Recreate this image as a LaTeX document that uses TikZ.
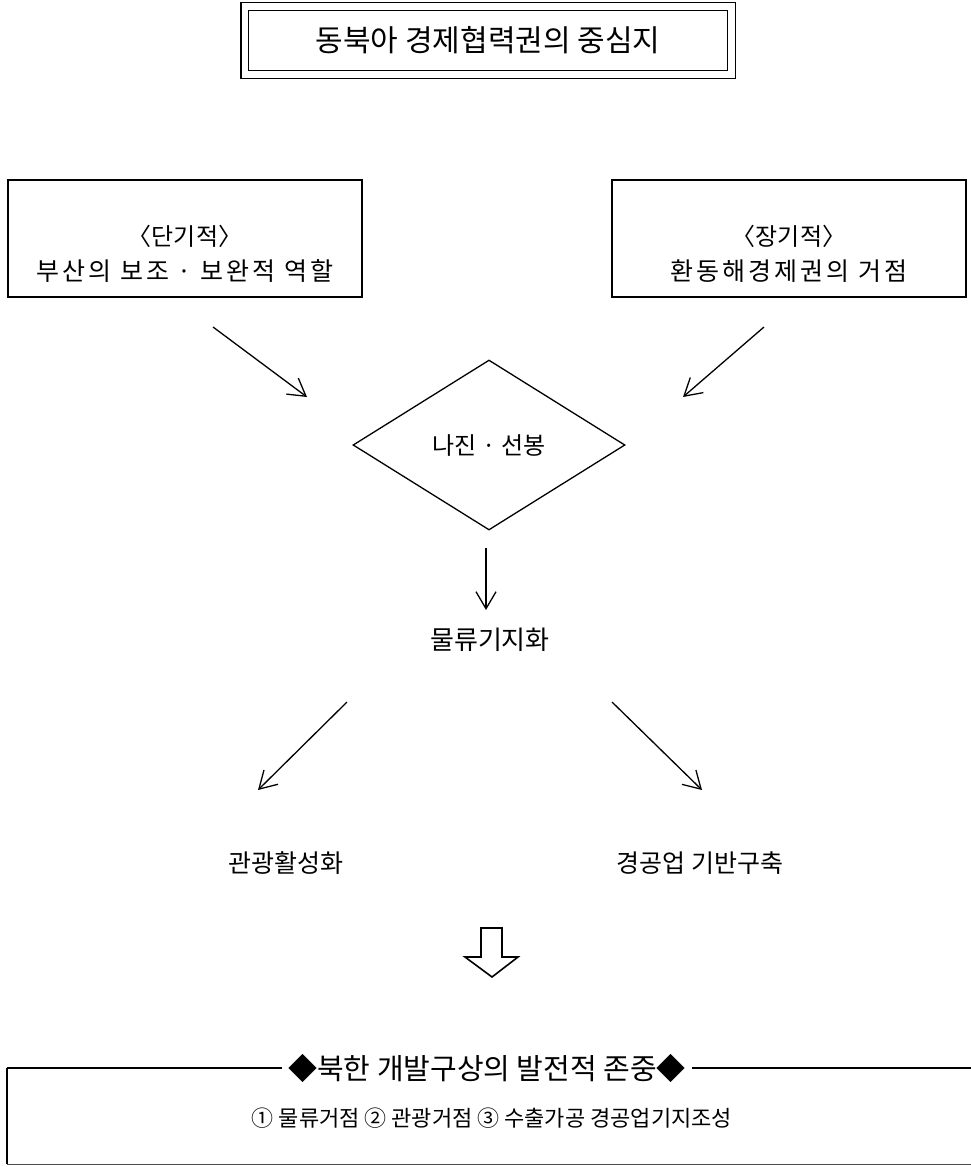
\documentclass[tikz,border=0pt]{standalone}
\usepackage{fontspec}
\setmainfont{Noto Sans CJK KR}
\usetikzlibrary{shapes.geometric,arrows.meta}
\tikzset{
  conn/.style={line width=1.3pt,-{Straight Barb[length=17pt,width=20pt,line width=1.3pt]}},
  boxstyle/.style={draw,line width=1.3pt,minimum width=354pt,minimum height=117pt},
  lbl/.style={font=\fontsize{25}{30}\selectfont,inner sep=0pt},
  spaced/.style={font=\fontsize{25}{30}\selectfont\addfontfeatures{LetterSpace=12}}
}
\begin{document}
\begin{tikzpicture}[x=1pt,y=-1pt]
\useasboundingbox (0,0) rectangle (971,1167);
% title double box
\node (title) [draw,double,double distance=6.5pt,line width=1.3pt,minimum width=486.5pt,minimum height=68pt,inner sep=0pt,font=\fontsize{30}{34}\selectfont] at (488,40.5) {동북아 경제협력권의 중심지};
% two boxes
\node (short) [boxstyle] at (185,238.5) {};
\node (long) [boxstyle] at (789,238.5) {};
\node (shortA) [lbl,font=\fontsize{24}{28}\selectfont] at (185,236) {〈단기적〉};
\node (shortB) [lbl,spaced] at (185,271) {부산의 보조 · 보완적 역할};
\node (longA) [lbl,font=\fontsize{24}{28}\selectfont] at (789,236) {〈장기적〉};
\node (longB) [lbl,spaced] at (789,271) {환동해경제권의 거점};
% diamond
\node (hub) [draw,diamond,line width=1.3pt,minimum width=272pt,minimum height=170pt,inner sep=0pt,font=\fontsize{24}{28}\selectfont] at (489,445) {나진 · 선봉};
% labels
\node (logi) [lbl,font=\fontsize{26}{30}\selectfont] at (490,640) {물류기지화};
\node (tour) [lbl] at (286,863) {관광활성화};
\node (ind) [lbl] at (700,863) {경공업 기반구축};
% coordinates
\coordinate (a1s) at (213,327); \coordinate (a1e) at (307,397);
\coordinate (a2s) at (764,327); \coordinate (a2e) at (683,397);
\coordinate (a3s) at (486,548); \coordinate (a3e) at (486,610);
\coordinate (a4s) at (347,702); \coordinate (a4e) at (258,790);
\coordinate (a5s) at (612,702); \coordinate (a5e) at (702,790);
\draw[conn] (a1s) -- (a1e);
\draw[conn] (a2s) -- (a2e);
\draw[conn] (a3s) -- (a3e);
\draw[conn] (a4s) -- (a4e);
\draw[conn] (a5s) -- (a5e);
% hollow arrow
\draw[line width=1.6pt,line join=miter] (481,928) -- (502,928) -- (502,957) -- (518,957) -- (492,977) -- (465,957) -- (481,957) -- cycle;
% bottom box
\draw[line width=1.3pt] (7,1068) -- (980,1068);
\draw[line width=1.3pt] (7,1068) -- (7,1164);
\draw[line width=1pt,black!70] (7,1164) -- (980,1164);
\node (conc) [fill=white,inner xsep=6pt,inner ysep=2pt,font=\fontsize{29}{32}\selectfont] at (487,1068) {◆북한 개발구상의 발전적 존중◆};
\node (plan) [lbl,font=\fontsize{22}{26}\selectfont] at (492,1118) {① 물류거점 ② 관광거점 ③ 수출가공 경공업기지조성};
\end{tikzpicture}
\end{document}
